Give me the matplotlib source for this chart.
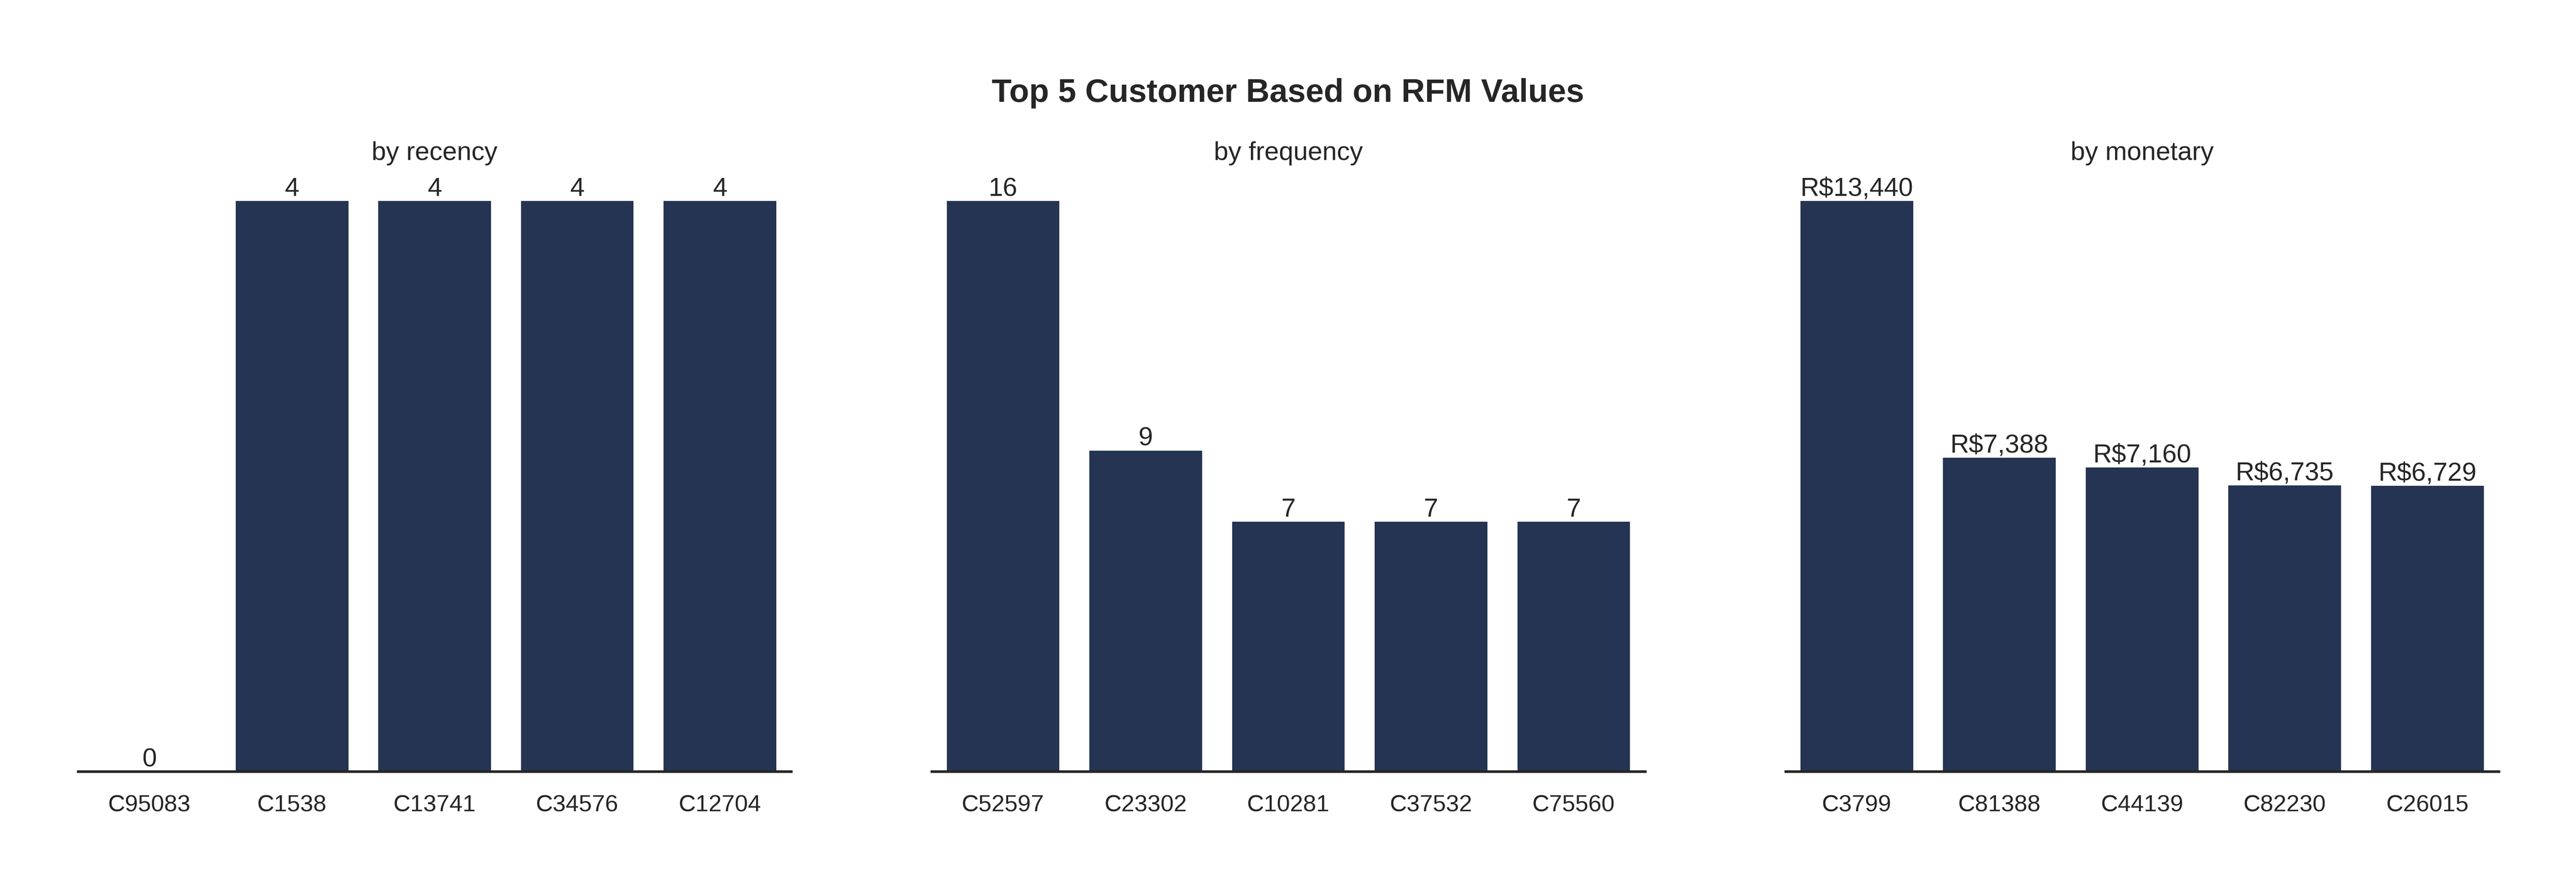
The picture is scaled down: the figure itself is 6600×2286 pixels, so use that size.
import matplotlib
matplotlib.use("Agg")
import matplotlib.pyplot as plt

recency_ids = ["C95083", "C1538", "C13741", "C34576", "C12704"]
recency_vals = [0, 4, 4, 4, 4]

frequency_ids = ["C52597", "C23302", "C10281", "C37532", "C75560"]
frequency_vals = [16, 9, 7, 7, 7]

monetary_ids = ["C3799", "C81388", "C44139", "C82230", "C26015"]
monetary_vals = [13440, 7388, 7160, 6735, 6729]

BAR_COLOR = "#243452"
TEXT_COLOR = "#262626"

plt.rcParams["font.family"] = ["Liberation Sans", "DejaVu Sans"]
plt.rcParams["text.color"] = TEXT_COLOR


def draw_panel(ax, ids, vals, title, fmt):
    x = list(range(len(ids)))
    bars = ax.bar(x, vals, width=0.79, color=BAR_COLOR)
    ax.set_xticks(x)
    ax.set_xticklabels(ids)
    ax.set_xlim(-0.5, len(ids) - 0.5)
    ax.set_ylim(0, max(vals) * 1.05)
    ax.set_yticks([])
    ax.tick_params(axis="x", length=0, pad=14, labelsize=14.5, labelcolor=TEXT_COLOR)
    for side in ["top", "right", "left"]:
        ax.spines[side].set_visible(False)
    ax.spines["bottom"].set_linewidth(1.6)
    ax.spines["bottom"].set_color(TEXT_COLOR)
    ax.set_title(title, fontsize=16, pad=8, color=TEXT_COLOR)
    ax.bar_label(bars, labels=[fmt(v) for v in vals], padding=0, fontsize=16, color=TEXT_COLOR)


fig, axes = plt.subplots(1, 3, figsize=(22, 7.6233), dpi=300)
fig.subplots_adjust(left=0.0303, right=0.970, bottom=0.1351, top=0.8063, wspace=0.197)

draw_panel(axes[0], recency_ids, recency_vals, "by recency", lambda v: f"{v}")
draw_panel(axes[1], frequency_ids, frequency_vals, "by frequency", lambda v: f"{v}")
draw_panel(axes[2], monetary_ids, monetary_vals, "by monetary", lambda v: f"R\\${v:,.0f}")

fig.suptitle("Top 5 Customer Based on RFM Values", fontsize=20, fontweight="bold",
             y=0.8957, va="center", color=TEXT_COLOR)

fig.savefig("out.png", dpi=300, facecolor="white")
